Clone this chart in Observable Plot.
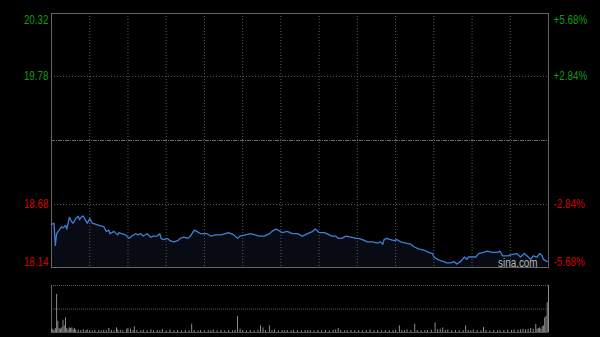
<!DOCTYPE html>
<html>
<head>
<meta charset="utf-8">
<script src="https://cdn.jsdelivr.net/npm/d3@7"></script>
<script src="https://cdn.jsdelivr.net/npm/@observablehq/plot@0.6"></script>
<style>
  html, body { margin: 0; padding: 0; background: #000; }
  #chart { width: 600px; height: 337px; background: #000; }
  #chart svg { display: block; }
</style>
</head>
<body>
<div id="chart"></div>
<script>
// ---- data ----
const timeDomain = [0, 390];            // minutes from open
const gridMinutes = [30, 60, 90, 120, 150, 180, 210, 240, 270, 300, 330, 360];
const priceDomain = [18.14, 20.32];
const prevClose = 19.23;
const priceTicks = [20.32, 19.78, 18.68, 18.14];
const pctLabels = ["+5.68%", "+2.84%", "-2.84%", "-5.68%"];

const minutes = [0,2,3,4,6,8,9,11,12,14,16,17,19,21,22,24,25,27,28,30,32,35,38,41,43,45,46,49,52,53,55,58,61,63,66,68,70,72,75,78,80,83,85,86,88,91,93,96,99,101,104,107,109,112,114,117,120,122,125,129,133,
  139,143,146,148,152,156,160,163,167,171,173,176,178,181,185,189,193,197,201,205,207,210,214,216,220,223,225,228,231,235,239,241,244,248,252,256,258,260,
  261,263,266,269,271,274,278,282,284,288,292,296,299,300,303,305,308,310,313,316,318,321,324,326,327,330,333,335,339,342,346,350,352,354,358,361,365,368,371,373,376,378,381,383,385,386,389];
const prices = [18.51,18.52,18.33,18.43,18.46,18.49,18.48,18.50,18.47,18.57,18.53,18.52,18.56,18.58,18.55,18.58,18.58,18.54,18.52,18.56,18.52,18.51,18.50,18.49,18.45,18.46,18.43,18.45,18.42,18.44,18.43,18.42,18.39,18.41,18.43,18.42,18.43,18.41,18.43,18.40,18.41,18.41,18.43,18.39,18.38,18.39,18.37,18.36,18.37,18.39,18.40,18.39,18.41,18.46,18.45,18.43,18.43,18.43,18.41,18.42,18.42,
  18.44,18.42,18.39,18.41,18.42,18.43,18.42,18.41,18.41,18.43,18.45,18.47,18.46,18.44,18.45,18.43,18.43,18.41,18.43,18.45,18.47,18.44,18.44,18.43,18.41,18.41,18.39,18.39,18.41,18.40,18.39,18.39,18.38,18.36,18.36,18.35,18.36,18.34,
  18.38,18.39,18.38,18.37,18.38,18.36,18.35,18.34,18.32,18.30,18.29,18.27,18.26,18.23,18.21,18.20,18.19,18.18,18.18,18.19,18.17,18.19,18.23,18.21,18.23,18.23,18.23,18.26,18.27,18.28,18.27,18.27,18.28,18.24,18.24,18.25,18.26,18.23,18.26,18.24,18.21,18.24,18.23,18.26,18.24,18.21,18.19];

const volMinutes = [0,1,2,3,4,5,6,7,8,9,10,11,12,13,14,15,16,17,18,19,21,23,25,27,28,30,32,34,37,39,41,43,45,47,49,51,52,54,56,59,60,62,64,65,67,70,72,75,78,80,83,85,87,90,93,96,99,102,105,108,110,112,115,117,120,123,125,127,130,133,136,139,142,144,146,148,150,153,156,159,162,164,166,168,171,173,175,178,181,183,185,188,190,193,196,199,201,203,206,209,212,215,218,221,223,225,227,230,232,235,238,241,244,247,250,253,256,259,262,265,268,270,273,275,277,279,282,285,287,290,293,295,298,301,303,305,307,309,311,314,317,320,323,325,327,329,331,334,337,339,341,344,347,350,352,355,358,361,363,366,368,370,372,374,376,378,380,381,382,383,384,385,386,387,388,389,390];
const volValues = [8,10,6,12,115,34,12,10,14,37,20,44,12,8,14,12,14,8,12,8,7,6,8,5,8,6,5,7,6,5,7,5,12,6,5,14,8,6,5,10,12,10,6,17,6,5,7,5,8,5,6,5,9,5,8,5,6,5,6,5,25,6,5,6,5,6,5,8,5,6,5,6,5,6,49,10,6,5,6,5,7,20,14,6,20,6,8,5,6,5,6,5,6,6,5,6,5,6,5,6,5,6,5,7,8,12,6,5,6,6,5,6,5,6,8,5,6,5,6,5,6,7,20,6,5,8,6,25,6,5,6,6,7,29,8,10,14,6,8,5,6,5,6,20,6,5,8,6,5,15,6,5,6,5,6,6,7,6,8,7,8,10,8,9,12,10,24,10,12,14,10,17,20,44,49,90,142];

// ---- styles ----
const GREEN = "#0f9a0f";
const RED = "#d40000";
const FONT = "'Liberation Sans', Arial, sans-serif";

const priceData = minutes.map((m, i) => ({m, p: prices[i]}));
const volData = volMinutes.map((m, i) => ({m, v: volValues[i]}));
const labelData = priceTicks.map((p, i) => ({p, pct: pctLabels[i], c: p > prevClose ? GREEN : RED}));
const topLab = labelData.filter(d => d.p === priceDomain[1]);
const botLab = labelData.filter(d => d.p === priceDomain[0]);
const midLab = labelData.filter(d => d.p !== priceDomain[0] && d.p !== priceDomain[1]);

function labelMarks(rows, lineAnchor, dy) {
  return [
    Plot.text(rows, {y: "p", text: d => d.p.toFixed(2), fill: "c", frameAnchor: "left", textAnchor: "end", dx: -3, dy, lineAnchor, fontSize: 12, className: "narrow"}),
    Plot.text(rows, {y: "p", text: "pct", fill: "c", frameAnchor: "right", textAnchor: "start", dx: 5, dy, lineAnchor, fontSize: 12, className: "narrow"})
  ];
}

const pricePlot = Plot.plot({
  width: 600,
  height: 277,
  marginLeft: 51,
  marginRight: 52,
  marginTop: 13,
  marginBottom: 10,
  style: {background: "#000", fontFamily: FONT, fontSize: "12px"},
  x: {domain: timeDomain, axis: null},
  y: {domain: priceDomain, axis: null},
  color: {type: "identity"},
  marks: [
    Plot.areaY(priceData, {x: "m", y1: priceDomain[0], y2: "p", fill: "#080b13"}),
    Plot.ruleX(gridMinutes, {stroke: "#5a5a5a", strokeDasharray: "1,2"}),
    Plot.ruleY(midLab, {y: "p", stroke: "#5a5a5a", strokeDasharray: "1,2"}),
    Plot.ruleY([prevClose], {stroke: "#6a6a6a", strokeDasharray: "4,1,1,1"}),
    Plot.frame({stroke: "#666"}),
    Plot.lineY(priceData, {x: "m", y: "p", stroke: "#3f7fd4", strokeWidth: 1.3}),
    ...labelMarks(topLab, "top", 1.5),
    ...labelMarks(midLab, "middle", 0),
    ...labelMarks(botLab, "bottom", -2),
    Plot.text(["sina.com"], {text: d => d, frameAnchor: "bottom-right", textAnchor: "end", lineAnchor: "bottom", dx: -11, dy: -1, fill: "#b8b8b8", fontSize: 12, className: "narrow"})
  ]
});

const volMax = d3.max(volValues);
const volPlot = Plot.plot({
  width: 600,
  height: 60,
  marginLeft: 51,
  marginRight: 52,
  marginTop: 8,
  marginBottom: 5,
  style: {background: "#000", fontFamily: FONT},
  x: {domain: timeDomain, axis: null},
  y: {domain: [0, volMax], axis: null},
  marks: [
    Plot.ruleY([volMax / 2, volMax], {stroke: "#5a5a5a", strokeDasharray: "1,1"}),
    Plot.ruleY([0], {stroke: "#555"}),
    Plot.ruleX(timeDomain, {stroke: "#666"}),
    Plot.ruleX(volData, {x: "m", y1: 0, y2: "v", stroke: "#8c8c8c"})
  ]
});

const chart = document.getElementById("chart");
chart.appendChild(pricePlot);
chart.appendChild(volPlot);

// Narrow the label glyphs (the reference uses a condensed face)
pricePlot.querySelectorAll("g.narrow text").forEach(t => {
  const w = t.getComputedTextLength();
  t.setAttribute("lengthAdjust", "spacingAndGlyphs");
  t.setAttribute("textLength", (w * 0.82).toFixed(1));
});
</script>
</body>
</html>
